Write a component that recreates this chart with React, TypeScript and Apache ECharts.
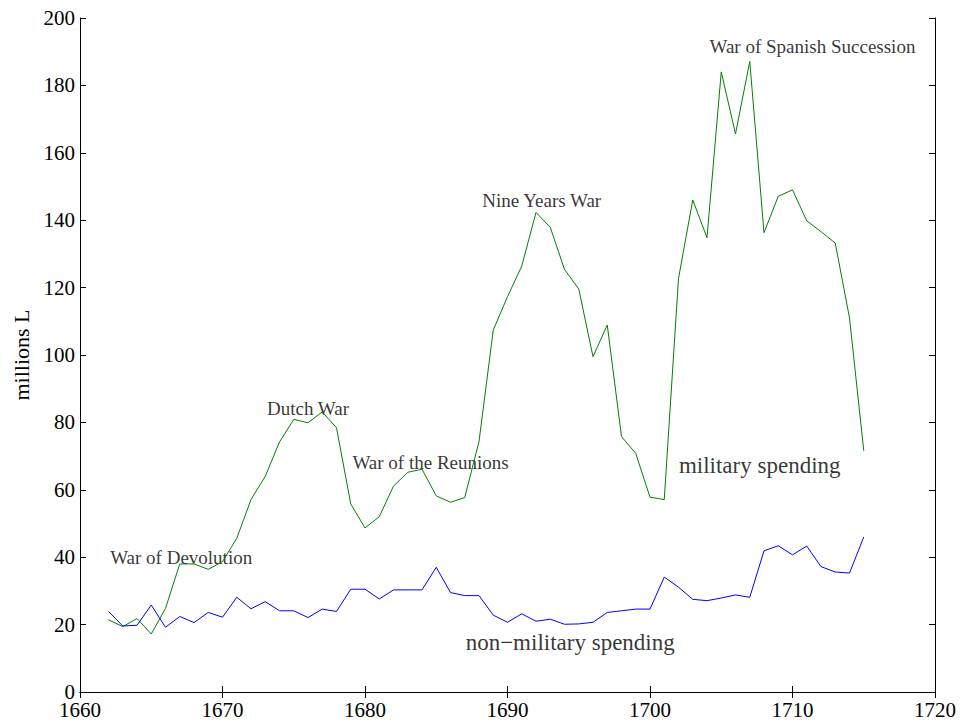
import React, { useEffect, useRef } from "react";
import * as echarts from "echarts";

const years = [
  1662, 1663, 1664, 1665, 1666, 1667, 1668, 1669, 1670, 1671, 1672, 1673, 1674, 1675, 1676, 1677, 1678, 1679,
  1680, 1681, 1682, 1683, 1684, 1685, 1686, 1687, 1688, 1689, 1690, 1691, 1692, 1693, 1694, 1695, 1696, 1697,
  1698, 1699, 1700, 1701, 1702, 1703, 1704, 1705, 1706, 1707, 1708, 1709, 1710, 1711, 1712, 1713, 1714, 1715,
];

const military = [
  21.4, 19.4, 21.8, 17.2, 24.8, 38.0, 38.0, 36.4, 38.7, 45.6, 57.1, 64.0, 74.2, 80.9, 79.9, 83.1, 78.4, 55.8,
  48.7, 52.0, 61.1, 65.2, 66.1, 58.2, 56.3, 57.7, 74.3, 107.4, 117.3, 126.4, 142.3, 137.9, 125.4, 119.6, 99.5, 108.9,
  75.8, 70.8, 57.8, 57.1, 122.7, 146.0, 134.8, 184.0, 165.6, 187.1, 136.3, 147.1, 149.0, 139.8, 136.6, 133.2, 111.0, 71.6,
];

const nonMilitary = [
  23.9, 19.6, 19.8, 25.8, 19.2, 22.4, 20.6, 23.6, 22.2, 28.1, 24.7, 26.8, 24.1, 24.1, 22.1, 24.6, 23.9, 30.5,
  30.5, 27.6, 30.3, 30.3, 30.3, 37.0, 29.5, 28.6, 28.6, 22.8, 20.7, 23.2, 21.0, 21.6, 20.1, 20.2, 20.7, 23.6,
  24.1, 24.6, 24.6, 34.1, 31.1, 27.5, 27.1, 27.9, 28.8, 28.1, 41.9, 43.4, 40.7, 43.3, 37.2, 35.6, 35.3, 46.0,
];

const annotationNames = [
  "War of Devolution",
  "Dutch War",
  "War of the Reunions",
  "Nine Years War",
  "War of Spanish Succession",
  "military spending",
  "non\u2212military spending",
];
const annotationX = [1667.1, 1676.0, 1684.6, 1692.4, 1711.4, 1707.7, 1694.4];
const annotationY = [39.8, 84.0, 68.2, 145.7, 191.4, 67.1, 14.8];
const annotationSize = [19, 19, 19, 19, 19, 23, 23];

const xTicks = [1660, 1670, 1680, 1690, 1700, 1710, 1720];
const yTicks = [0, 20, 40, 60, 80, 100, 120, 140, 160, 180, 200];

const FONT = "Liberation Serif";

export default function App() {
  const ref = useRef<HTMLDivElement>(null);
  useEffect(() => {
    if (!ref.current) return;
    const chart = echarts.init(ref.current, null, { renderer: "svg" });
    const axisLine = { show: true, lineStyle: { color: "#000", width: 1 } };
    const tick = { show: true, inside: true, length: 6, lineStyle: { color: "#000" } };
    const option: any = {
      animation: false,
      backgroundColor: "#fff",
      grid: { left: 80, right: 28, top: 18, bottom: 31, containLabel: false },
      xAxis: [
        {
          type: "value",
          min: xTicks[0],
          max: xTicks[xTicks.length - 1],
          interval: 10,
          axisLine,
          axisTick: tick,
          splitLine: { show: false },
          axisLabel: { color: "#000", fontFamily: FONT, fontSize: 21, margin: 7, formatter: (v: number) => String(v) },
        },
        {
          type: "value",
          position: "top",
          min: xTicks[0],
          max: xTicks[xTicks.length - 1],
          interval: 10,
          axisLine,
          axisTick: tick,
          splitLine: { show: false },
          axisLabel: { show: false },
        },
      ],
      yAxis: [
        {
          type: "value",
          min: yTicks[0],
          max: yTicks[yTicks.length - 1],
          interval: 20,
          axisLine,
          axisTick: tick,
          splitLine: { show: false },
          axisLabel: { color: "#000", fontFamily: FONT, fontSize: 21, margin: 5 },
          name: "millions L",
          nameLocation: "middle",
          nameGap: 47,
          nameTextStyle: { color: "#000", fontFamily: FONT, fontSize: 22 },
        },
        {
          type: "value",
          position: "right",
          min: yTicks[0],
          max: yTicks[yTicks.length - 1],
          interval: 20,
          axisLine,
          axisTick: tick,
          splitLine: { show: false },
          axisLabel: { show: false },
        },
      ],
      series: [
        {
          type: "line",
          name: "military spending",
          data: years.map((y, i) => [y, military[i]]),
          symbol: "none",
          lineStyle: { color: "#008000", width: 1 },
          itemStyle: { color: "#008000" },
        },
        {
          type: "line",
          name: "non-military spending",
          data: years.map((y, i) => [y, nonMilitary[i]]),
          symbol: "none",
          lineStyle: { color: "#0000ff", width: 1 },
          itemStyle: { color: "#0000ff" },
        },
        {
          type: "scatter",
          symbolSize: 0,
          silent: true,
          data: annotationNames.map((n, i) => ({
            name: n,
            value: [annotationX[i], annotationY[i]],
            label: {
              show: true,
              position: "inside",
              formatter: n,
              color: "#000",
              fontFamily: FONT,
              fontSize: annotationSize[i],
            },
          })),
        },
      ],
    };
    chart.setOption(option);
    return () => chart.dispose();
  }, []);
  return <div ref={ref} style={{ width: 963, height: 723, position: "absolute", left: 0, top: 0 }} />;
}
